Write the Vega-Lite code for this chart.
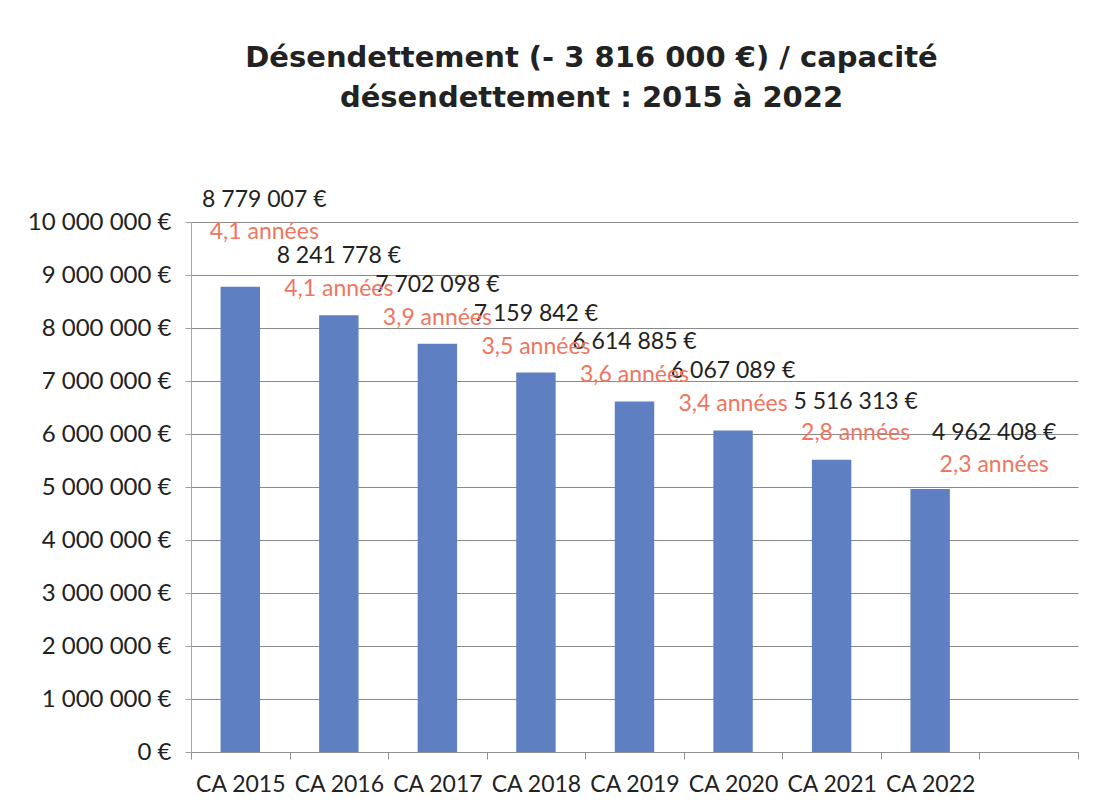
{
  "$schema": "https://vega.github.io/schema/vega-lite/v6.json",
  "width": 887,
  "height": 530,
  "autosize": {"type": "none"},
  "padding": {"left": 191, "top": 222, "right": 18, "bottom": 60},
  "background": "white",
  "config": {
    "locale": {"number": {"decimal": ",", "thousands": " ", "grouping": [3], "currency": ["", " €"]}},
    "view": {"stroke": null},
    "font": "Lato"
  },
  "title": {
    "text": ["Désendettement (- 3 816 000 €) / capacité", "désendettement : 2015 à 2022"],
    "font": "DejaVu Sans",
    "fontSize": 29,
    "fontWeight": "bold",
    "color": "#222222",
    "anchor": "middle",
    "frame": "group",
    "dx": -43,
    "lineHeight": 40,
    "offset": 76
  },
  "data": {
    "values": [
      {"cat": "CA 2015", "montant": 8779007, "capacite": 4.1},
      {"cat": "CA 2016", "montant": 8241778, "capacite": 4.1},
      {"cat": "CA 2017", "montant": 7702098, "capacite": 3.9},
      {"cat": "CA 2018", "montant": 7159842, "capacite": 3.5},
      {"cat": "CA 2019", "montant": 6614885, "capacite": 3.6},
      {"cat": "CA 2020", "montant": 6067089, "capacite": 3.4},
      {"cat": "CA 2021", "montant": 5516313, "capacite": 2.8},
      {"cat": "CA 2022", "montant": 4962408, "capacite": 2.3}
    ]
  },
  "transform": [
    {"calculate": "replace(format(datum.capacite, '.1f'), '.', ',') + ' années'", "as": "cap_label"}
  ],
  "encoding": {
    "x": {
      "field": "cat",
      "type": "nominal",
      "sort": null,
      "scale": {
        "domain": ["CA 2015", "CA 2016", "CA 2017", "CA 2018", "CA 2019", "CA 2020", "CA 2021", "CA 2022", " "],
        "paddingInner": 0,
        "paddingOuter": 0
      },
      "axis": {
        "title": null,
        "labelAngle": 0,
        "labelFontSize": 23,
        "labelColor": "#222222",
        "labelPadding": 14,
        "tickBand": "extent",
        "tickSize": 7,
        "tickColor": "#909090",
        "domainColor": "#8f8f8f",
        "grid": false
      }
    },
    "y": {
      "field": "montant",
      "type": "quantitative",
      "scale": {"domain": [0, 10000000], "nice": false},
      "axis": {
        "title": null,
        "values": [0, 1000000, 2000000, 3000000, 4000000, 5000000, 6000000, 7000000, 8000000, 9000000, 10000000],
        "format": "$,.0f",
        "labelFontSize": 24,
        "labelColor": "#222222",
        "labelPadding": 14,
        "tickSize": 6,
        "tickColor": "#a0a0a0",
        "domainColor": "#a8a8a8",
        "grid": true,
        "gridColor": "#8a8a8a",
        "gridWidth": 1
      }
    }
  },
  "layer": [
    {"mark": {"type": "bar", "color": "#5f7fc3", "width": {"band": 0.4}}},
    {
      "transform": [{"filter": "indexof(['CA 2016','CA 2017','CA 2018','CA 2019','CA 2020'], datum.cat) >= 0"}],
      "mark": {"type": "text", "baseline": "middle", "align": "center", "dy": -59, "fontSize": 23, "color": "#222222"},
      "encoding": {"text": {"field": "montant", "type": "quantitative", "format": "$,.0f"}}
    },
    {
      "transform": [{"filter": "indexof(['CA 2016','CA 2017','CA 2018','CA 2019','CA 2020'], datum.cat) >= 0"}],
      "mark": {"type": "text", "baseline": "middle", "align": "center", "dy": -26, "fontSize": 23, "color": "#f07560"},
      "encoding": {"text": {"field": "cap_label", "type": "nominal"}}
    },
    {
      "transform": [{"filter": "datum.cat == 'CA 2015'"}],
      "mark": {"type": "text", "baseline": "middle", "align": "center", "dx": 24, "dy": -87, "fontSize": 23, "color": "#222222"},
      "encoding": {"text": {"field": "montant", "type": "quantitative", "format": "$,.0f"}}
    },
    {
      "transform": [{"filter": "datum.cat == 'CA 2015'"}],
      "mark": {"type": "text", "baseline": "middle", "align": "center", "dx": 24, "dy": -55, "fontSize": 23, "color": "#f07560"},
      "encoding": {"text": {"field": "cap_label", "type": "nominal"}}
    },
    {
      "transform": [{"filter": "datum.cat == 'CA 2021'"}],
      "mark": {"type": "text", "baseline": "middle", "align": "center", "dx": 24, "dy": -58, "fontSize": 23, "color": "#222222"},
      "encoding": {"text": {"field": "montant", "type": "quantitative", "format": "$,.0f"}}
    },
    {
      "transform": [{"filter": "datum.cat == 'CA 2021'"}],
      "mark": {"type": "text", "baseline": "middle", "align": "center", "dx": 24, "dy": -27, "fontSize": 23, "color": "#f07560"},
      "encoding": {"text": {"field": "cap_label", "type": "nominal"}}
    },
    {
      "transform": [{"filter": "datum.cat == 'CA 2022'"}],
      "mark": {"type": "text", "baseline": "middle", "align": "center", "dx": 64, "dy": -56, "fontSize": 23, "color": "#222222"},
      "encoding": {"text": {"field": "montant", "type": "quantitative", "format": "$,.0f"}}
    },
    {
      "transform": [{"filter": "datum.cat == 'CA 2022'"}],
      "mark": {"type": "text", "baseline": "middle", "align": "center", "dx": 64, "dy": -24, "fontSize": 23, "color": "#f07560"},
      "encoding": {"text": {"field": "cap_label", "type": "nominal"}}
    }
  ]
}
